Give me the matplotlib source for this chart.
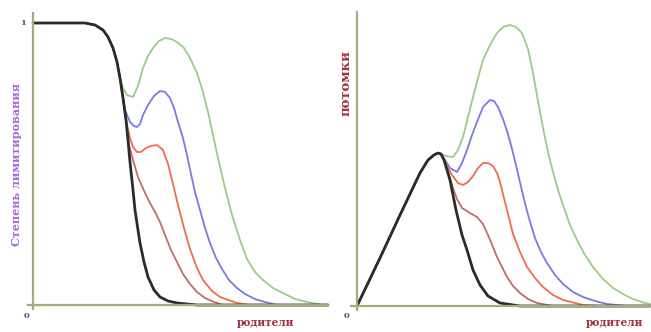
import matplotlib
matplotlib.use("Agg")
import matplotlib.pyplot as plt

# ---------------- data (x = parents, h = height; 282 == level "1") ----------------
LEVEL_ONE = 282

# Left panel: degree of limitation vs parents
L_black_x = [0, 27, 52, 62, 70, 75, 80, 84, 87, 90, 93, 95, 97, 100, 102, 105, 107, 111, 115, 121, 127, 135, 144, 164, 200, 295]
L_black_y = [282, 282, 282, 280, 275, 268, 257, 243, 227, 207, 185, 165, 143, 115, 95, 75, 62, 43, 28, 15, 8, 4, 2, 0, 0, 0]

L_green_x = [0, 27, 52, 62, 70, 75, 80, 84, 87, 90, 94, 100, 105, 110, 115, 120, 126, 132, 138, 144, 151, 157, 164, 170, 175, 180, 185, 192, 199, 207, 214, 222, 230, 240, 250, 262, 274, 290]
L_green_y = [282, 282, 282, 280, 275, 268, 257, 243, 227, 217, 210, 208, 219, 237, 249, 257, 264, 267, 266, 263, 257, 247, 232, 213, 193, 170, 147, 117, 90, 65, 46, 33, 25, 17, 12, 6, 3, 0]

L_blue_x = [0, 27, 52, 62, 70, 75, 80, 84, 87, 90, 92, 97, 101, 104, 107, 110, 115, 121, 127, 132, 137, 141, 145, 150, 154, 158, 162, 167, 172, 177, 183, 189, 196, 204, 212, 222, 232, 244]
L_blue_y = [282, 282, 282, 280, 275, 268, 257, 243, 227, 207, 195, 183, 179, 178, 181, 190, 200, 209, 214, 213, 207, 197, 183, 167, 150, 131, 113, 95, 77, 62, 47, 36, 25, 17, 11, 6, 3, 0]

L_orange_x = [0, 27, 52, 62, 70, 75, 80, 84, 87, 90, 94, 97, 100, 104, 108, 113, 118, 124, 130, 135, 139, 145, 151, 157, 164, 170, 179, 187, 204, 217]
L_orange_y = [282, 282, 282, 280, 275, 268, 257, 243, 227, 207, 180, 167, 158, 153, 153, 157, 159, 160, 155, 141, 125, 100, 77, 56, 37, 25, 14, 8, 2, 0]

L_dred_x = [0, 27, 52, 62, 70, 75, 80, 84, 87, 90, 93, 96, 100, 105, 112, 117, 122, 127, 132, 138, 144, 150, 157, 164, 172, 181, 190]
L_dred_y = [282, 282, 282, 280, 275, 268, 257, 243, 227, 207, 185, 160, 145, 128, 112, 102, 93, 83, 70, 55, 43, 31, 21, 13, 7, 3, 0]

# Right panel: offspring vs parents
R_black_x = [0, 23, 43, 63, 71, 77, 81, 84, 87, 93, 99, 105, 110, 116, 123, 131, 143, 163, 293]
R_black_y = [0, 48, 91, 133, 146, 151, 153, 152, 146, 126, 96, 71, 56, 36, 21, 10, 3, 0, 0]

R_green_x = [0, 23, 43, 63, 71, 77, 81, 84, 89, 96, 101, 106, 111, 116, 121, 126, 133, 140, 146, 153, 159, 165, 171, 176, 181, 186, 191, 196, 201, 206, 213, 220, 228, 236, 246, 256, 266, 276, 288, 293]
R_green_y = [0, 48, 91, 133, 146, 151, 153, 152, 150, 149, 156, 169, 189, 209, 228, 246, 261, 273, 279, 281, 279, 273, 257, 233, 205, 178, 154, 134, 116, 101, 81, 66, 51, 39, 27, 18, 12, 7, 3, 2]

R_blue_x = [0, 23, 43, 63, 71, 77, 81, 84, 88, 93, 100, 105, 110, 115, 120, 126, 133, 137, 141, 146, 150, 154, 158, 162, 166, 170, 174, 178, 184, 190, 198, 206, 216, 226, 238, 250, 270]
R_blue_y = [0, 48, 91, 133, 146, 151, 153, 152, 146, 138, 134, 143, 156, 171, 184, 199, 206, 205, 199, 187, 175, 161, 145, 128, 111, 95, 81, 68, 54, 43, 31, 22, 14, 9, 5, 2, 0]

R_orange_x = [0, 23, 43, 63, 71, 77, 81, 84, 87, 91, 95, 101, 106, 111, 116, 121, 126, 131, 136, 140, 143, 146, 151, 156, 163, 170, 178, 186, 196, 206, 226, 243]
R_orange_y = [0, 48, 91, 133, 146, 151, 153, 152, 146, 138, 131, 123, 121, 124, 130, 138, 143, 143, 140, 133, 124, 112, 92, 72, 54, 39, 28, 19, 11, 6, 1, 0]

R_dred_x = [0, 23, 43, 63, 71, 77, 81, 84, 87, 91, 96, 100, 105, 113, 120, 126, 131, 136, 140, 145, 150, 156, 163, 171, 180, 196]
R_dred_y = [0, 48, 91, 133, 146, 151, 153, 152, 146, 134, 118, 107, 98, 93, 89, 82, 71, 59, 49, 39, 29, 20, 13, 7, 3, 0]

x_label = "родители"
left_ylabel = "Степень лимитирования"
right_ylabel = "потомки"
tick_zero = "0"
tick_one = "1"

# ---------------- style ----------------
C_BLACK = "#2b2b2b"
C_DRED = "#c46a6a"
C_ORANGE = "#f26a4c"
C_BLUE = "#7b78e6"
C_GREEN = "#9ccb86"
C_AXIS = "#a9aa7c"
C_LBL = "#a0343e"
C_PURPLE = "#a665e0"
C_TICK = "#555555"

W, H = 651, 332
fig = plt.figure(figsize=(W / 100, H / 100), dpi=100)
fig.patch.set_facecolor("white")

serif = ["DejaVu Serif", "Liberation Serif"]


def make_axes(left_px, bottom_px, w_px, h_px, xlim, ylim):
    ax = fig.add_axes([left_px / W, bottom_px / H, w_px / W, h_px / H])
    ax.set_xlim(*xlim)
    ax.set_ylim(*ylim)
    for s in ("top", "right"):
        ax.spines[s].set_visible(False)
    for s in ("left", "bottom"):
        ax.spines[s].set_color(C_AXIS)
        ax.spines[s].set_linewidth(1.6)
        ax.spines[s].set_position(("data", 0))
    ax.set_xticks([])
    ax.set_yticks([])
    ax.patch.set_alpha(0)
    return ax


# left axes: x 0 at px 33, y 0 at py 305
axL = make_axes(28, 332 - 309, 300, 296, (-5, 295), (-4, 292))
# right axes: x 0 at px 357, y 0 at py 306
axR = make_axes(351, 332 - 310, 299, 298, (-6, 293), (-4, 294))

lw = 1.3
for ax, series in (
    (axL, [(L_green_x, L_green_y, C_GREEN), (L_blue_x, L_blue_y, C_BLUE),
           (L_orange_x, L_orange_y, C_ORANGE), (L_dred_x, L_dred_y, C_DRED),
           (L_black_x, L_black_y, C_BLACK)]),
    (axR, [(R_green_x, R_green_y, C_GREEN), (R_blue_x, R_blue_y, C_BLUE),
           (R_orange_x, R_orange_y, C_ORANGE), (R_dred_x, R_dred_y, C_DRED),
           (R_black_x, R_black_y, C_BLACK)]),
):
    for xs, ys, c in series:
        ax.plot(xs, ys, color=c, lw=2.0 if c == C_BLACK else lw,
                solid_joinstyle="round", solid_capstyle="round", clip_on=False)

# tick-like labels
axL.text(-10, LEVEL_ONE, tick_one, ha="center", va="center", fontsize=6,
         fontweight="bold", color=C_TICK, family=serif)
axL.text(-7, -11, tick_zero, ha="center", va="center", fontsize=6,
         fontweight="bold", color=C_TICK, family=serif)
axR.text(-10, -10, tick_zero, ha="center", va="center", fontsize=6,
         fontweight="bold", color=C_TICK, family=serif)

# axis titles
fig.text(265 / W, 1 - 322 / H, x_label, ha="center", va="center", fontsize=7.6,
         fontweight="bold", color=C_LBL, family=serif)
fig.text(614 / W, 1 - 322 / H, x_label, ha="center", va="center", fontsize=7.6,
         fontweight="bold", color=C_LBL, family=serif)
fig.text(17 / W, 1 - 165 / H, left_ylabel, ha="center", va="center", fontsize=8,
         fontweight="bold", rotation=90, color=C_PURPLE, family=serif)
fig.text(346 / W, 1 - 83 / H, right_ylabel, ha="center", va="center", fontsize=9.5,
         fontweight="bold", rotation=90, color=C_LBL, family=serif)

fig.savefig("out.png", dpi=100, facecolor="white")
